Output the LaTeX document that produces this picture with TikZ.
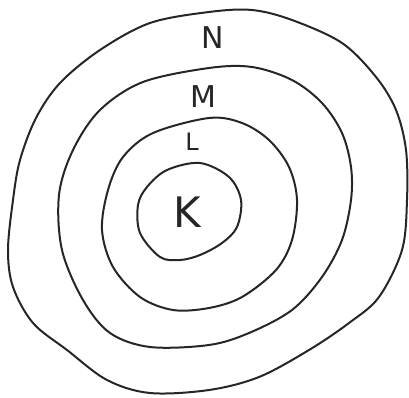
\documentclass[tikz,border=0pt]{standalone}
\usepackage{fontspec}
\setsansfont{DejaVu Sans}
\begin{document}
\begin{tikzpicture}[x=1pt,y=-1pt,
  shell/.style={line width=2pt,line join=round,line cap=round,draw=black!85},
  lbl/.style={font=\fontsize{#1}{#1}\selectfont\sffamily,inner sep=0pt,text=black!85}]
\useasboundingbox (0,0) rectangle (409,398);
% outer shell N
\draw[shell] plot[smooth cycle,tension=0.55] coordinates {
 (209,12) (252,10) (292,20) (342,43) (376,77) (396,110) (406,150) (407,200)
 (402,250) (379,297) (349,323) (309,350) (259,377) (209,390) (150,393) (107,380)
 (67,350) (33,323) (13,287) (8,250) (13,200) (20,160) (36,118) (60,83) (100,50) (150,23)};
% shell M
\draw[shell] plot[smooth cycle,tension=0.55] coordinates {
 (209,68) (252,67) (292,80) (322,103) (342,133) (351,167) (351,200) (342,240)
 (322,277) (292,310) (249,333) (209,345) (150,347) (110,333) (83,300) (62,250)
 (59,195) (73,150) (100,110) (143,82)};
% shell L
\draw[shell] plot[smooth cycle,tension=0.55] coordinates {
 (209,118) (242,123) (269,140) (289,167) (297,200) (292,240) (276,270) (242,297)
 (209,308) (173,310) (140,297) (113,267) (102,230) (108,190) (123,157) (153,133)};
% shell K
\draw[shell] plot[smooth cycle,tension=0.55] coordinates {
 (200,163) (229,177) (241,200) (237,227) (222,243) (200,255) (180,260) (160,257)
 (140,233) (138,205) (147,187) (167,170)};
\node[lbl=30] (n) at (213,38) {N};
\node[lbl=30] (m) at (203,97) {M};
\node[lbl=24] (l) at (192,142) {L};
\node[lbl=42] (k) at (187,212) {K};
\end{tikzpicture}
\end{document}
